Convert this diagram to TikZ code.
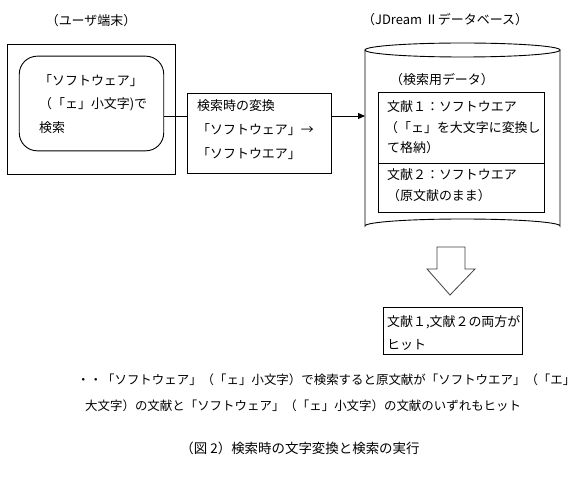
\documentclass[tikz,border=0pt]{standalone}
\usepackage{fontspec}
\setmainfont{Noto Sans CJK JP}
\usetikzlibrary{arrows.meta}
\tikzset{
  box/.style={draw, line width=0.9bp, inner sep=0pt},
  txt/.style={anchor=west, inner sep=0pt, text height=10.5bp, text depth=1.5bp, font=\fontsize{13}{15}\selectfont},
  btxt/.style={txt, font=\fontsize{12.5}{14}\selectfont},
  lbl/.style={inner sep=0pt, text height=10.5bp, text depth=1.5bp, font=\fontsize{13}{15}\selectfont},
  conn/.style={line width=0.9bp},
}
\begin{document}
\begin{tikzpicture}[x=1bp,y=-1bp]
\useasboundingbox (0,0) rectangle (581,477);
\fill[white] (0,0) rectangle (581,477);
% labels
\node[lbl] (lblu) at (91,21) {（ユーザ端末）};
\node[lbl, anchor=west] (lbldb) at (362,20) {（JDream Ⅱデータベース）};
% user terminal
\node[box, minimum width=168, minimum height=131] (outer) at (91.5,109.5) {};
\node[box, rounded corners=18, minimum width=145, minimum height=95] (user) at (91.5,103.5) {};
\node[txt] (u1) at (39,81) {「ソフトウェア」};
\node[txt] (u2) at (39,104) {（「ェ」小文字)で};
\node[txt] (u3) at (39,128) {検索};
% middle box
\node[box, minimum width=145, minimum height=81] (mid) at (259.5,133.5) {};
\node[txt] (m1) at (197,106) {検索時の変換};
\node[txt] (m2) at (197,130) {「ソフトウェア」→};
\node[txt] (m3) at (197,154) {「ソフトウエア」};
% database cylinder
\coordinate (dbw) at (365,116);
\draw[conn] (365,50) -- (365,226) arc[start angle=180, end angle=360, x radius=97.5, y radius=7] -- (560,50);
\draw[conn] (462.5,50) ellipse[x radius=97.5, y radius=7];
\node[txt] (dbl) at (390,80) {（検索用データ）};
\node[box, minimum width=167, minimum height=121] (inner) at (461.5,152.5) {};
\coordinate (divl) at (378,163);
\coordinate (divr) at (545,163);
\draw[conn] (divl) -- (divr);
\node[txt] (d1) at (387,107) {文献１：ソフトウエア};
\node[txt] (d2) at (385,128) {（「ェ」を大文字に変換し};
\node[txt] (d3) at (387,148) {て格納）};
\node[txt] (d4) at (387,175) {文献２：ソフトウエア};
\node[txt] (d5) at (387,196) {（原文献のまま）};
% connectors
\coordinate (lk) at (0,116);
\draw[conn] (user.east |- lk) -- (mid.west |- lk);
\draw[conn, -{Triangle[length=7bp, width=6bp]}] (mid.east |- lk) -- (dbw);
% block arrow
\draw[line width=0.8bp, draw=black!75] (437,247) -- (465,247) -- (465,269) -- (475,269) -- (450,295) -- (427,269) -- (437,269) -- cycle;
% result box
\node[box, minimum width=140, minimum height=48] (res) at (453,331) {};
\node[txt] (r1) at (387,322) {文献１,文献２の両方が};
\node[txt] (r2) at (387,345) {ヒット};
% bottom text
\node[btxt] (b1) at (77,380) {・・「ソフトウェア」（「ェ」小文字）で検索すると原文献が「ソフトウエア」（「エ」};
\node[btxt] (b2) at (85,406) {大文字）の文献と「ソフトウェア」（「ェ」小文字）の文献のいずれもヒット};
\node[lbl, font=\fontsize{13.5}{15}\selectfont] (cap) at (300,449) {（図 2）検索時の文字変換と検索の実行};
\end{tikzpicture}
\end{document}
